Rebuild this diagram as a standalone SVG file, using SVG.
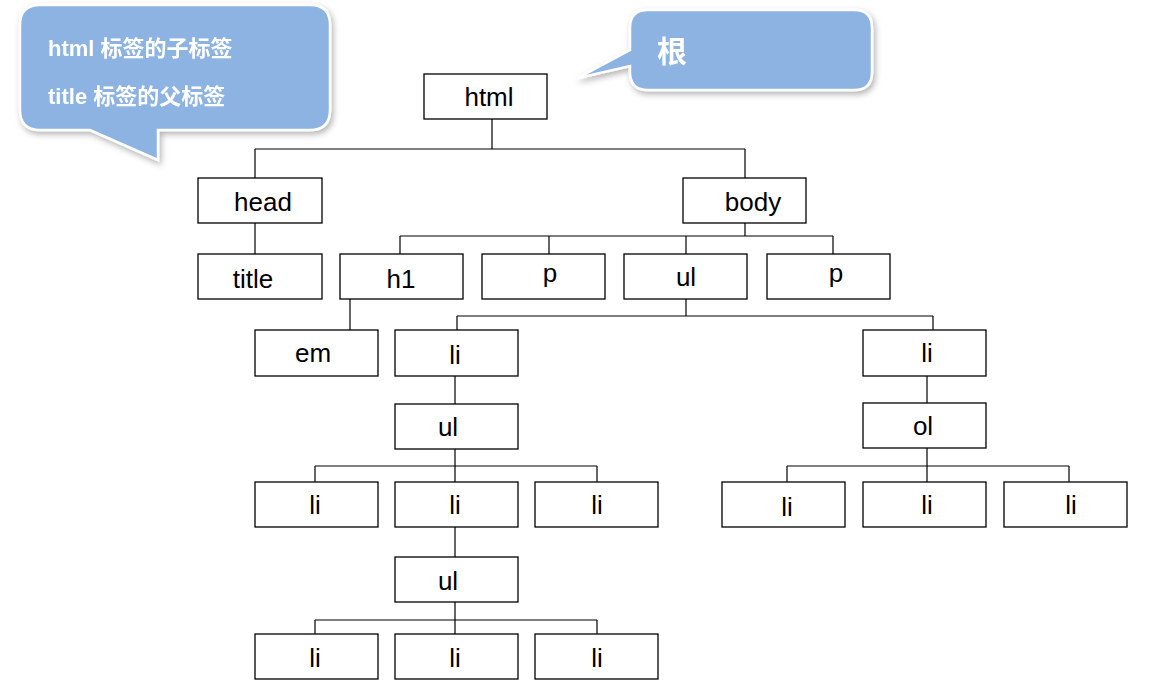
<svg xmlns="http://www.w3.org/2000/svg" width="1161" height="700" viewBox="0 0 1161 700">
<defs>
<style>
.n rect{fill:#fff;stroke:#000;stroke-width:1.3}
.n text{font-family:"Liberation Sans",Arial,sans-serif;font-size:26px;fill:#000;text-anchor:middle}
.c{stroke:#000;stroke-width:1.2;fill:none}
.co path{fill:#8db3e2;stroke:#fff;stroke-width:2.5}
.co text{font-family:"Liberation Sans","Noto Sans CJK SC",sans-serif;font-weight:bold;fill:#fff}
</style>
<filter id="sh" x="-10%" y="-10%" width="130%" height="140%"><feDropShadow dx="2" dy="3" stdDeviation="3" flood-color="#000" flood-opacity="0.3"/></filter>
</defs>
<rect width="1161" height="700" fill="#fff"/>
<g id="callout-left" class="co" filter="url(#sh)">
<path d="M40,5 H310 Q330,5 330,25 V110 Q330,130 310,130 H158 L158,160 L90,130 H40 Q20,130 20,110 V25 Q20,5 40,5 Z"/>
<text x="48" y="56" font-size="22">html 标签的子标签</text>
<text x="48" y="104" font-size="22">title 标签的父标签</text>
</g>
<g id="callout-right" class="co" filter="url(#sh)">
<path d="M648,10 H854 Q872,10 872,28 V72 Q872,90 854,90 H648 Q630,90 630,72 V66 L578,78 L630,50 V28 Q630,10 648,10 Z"/>
<text x="657" y="62" font-size="30">根</text>
</g>
<g id="connectors" class="c">
<path d="M492,119V149M255,149H745M255,149V178M745,149V178"/>
<path d="M255,223V254"/>
<path d="M745,223V236M400,236H833M400,236V254M549,236V254M686,236V254M833,236V254"/>
<path d="M350,299V330"/>
<path d="M686,299V316M457,316H933M457,316V330M933,316V330"/>
<path d="M455,376V404"/>
<path d="M455,449V482M315,466H597M315,466V482M597,466V482"/>
<path d="M455,527V557"/>
<path d="M455,602V634M315,620H597M315,620V634M597,620V634"/>
<path d="M927,376V403"/>
<path d="M927,448V482M787,466H1069M787,466V482M1069,466V482"/>
</g>
<g id="html" class="n"><rect x="424" y="74" width="123" height="45"/><text x="489" y="106">html</text></g>
<g id="head" class="n"><rect x="198" y="178" width="124" height="45"/><text x="263" y="211">head</text></g>
<g id="body" class="n"><rect x="683" y="178" width="123" height="45"/><text x="753" y="211">body</text></g>
<g id="title" class="n"><rect x="198" y="254" width="124" height="45"/><text x="253" y="288">title</text></g>
<g id="h1" class="n"><rect x="340" y="254" width="123" height="45"/><text x="401" y="288">h1</text></g>
<g id="p1" class="n"><rect x="482" y="254" width="123" height="45"/><text x="550" y="282">p</text></g>
<g id="ul1" class="n"><rect x="624" y="254" width="123" height="45"/><text x="686" y="286">ul</text></g>
<g id="p2" class="n"><rect x="767" y="254" width="123" height="45"/><text x="836" y="282">p</text></g>
<g id="em" class="n"><rect x="255" y="330" width="123" height="46"/><text x="313" y="362">em</text></g>
<g id="li1" class="n"><rect x="395" y="330" width="123" height="46"/><text x="455" y="364">li</text></g>
<g id="li2" class="n"><rect x="863" y="330" width="123" height="46"/><text x="927" y="362">li</text></g>
<g id="ul2" class="n"><rect x="395" y="404" width="123" height="45"/><text x="448" y="436">ul</text></g>
<g id="ol" class="n"><rect x="863" y="403" width="123" height="45"/><text x="923" y="435">ol</text></g>
<g id="li3" class="n"><rect x="255" y="482" width="123" height="45"/><text x="315" y="514">li</text></g>
<g id="li4" class="n"><rect x="395" y="482" width="123" height="45"/><text x="455" y="514">li</text></g>
<g id="li5" class="n"><rect x="535" y="482" width="123" height="45"/><text x="597" y="514">li</text></g>
<g id="li6" class="n"><rect x="722" y="482" width="123" height="45"/><text x="787" y="516">li</text></g>
<g id="li7" class="n"><rect x="863" y="482" width="123" height="45"/><text x="927" y="514">li</text></g>
<g id="li8" class="n"><rect x="1004" y="482" width="123" height="45"/><text x="1071" y="514">li</text></g>
<g id="ul3" class="n"><rect x="395" y="557" width="123" height="45"/><text x="448" y="590">ul</text></g>
<g id="li9" class="n"><rect x="255" y="634" width="123" height="45"/><text x="315" y="667">li</text></g>
<g id="li10" class="n"><rect x="395" y="634" width="123" height="45"/><text x="455" y="667">li</text></g>
<g id="li11" class="n"><rect x="535" y="634" width="123" height="45"/><text x="597" y="667">li</text></g>
</svg>
